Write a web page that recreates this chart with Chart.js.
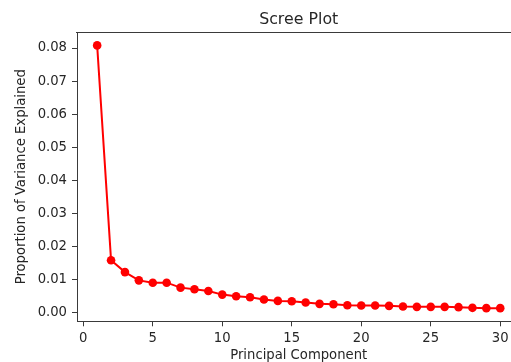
<!DOCTYPE html>
<html>
<head>
<meta charset="utf-8">
<script src="https://cdn.jsdelivr.net/npm/chart.js@4"></script>
<style>
    html, body { margin: 0; padding: 0; background: #fff; }
    #wrap { width: 511px; height: 362px; overflow: hidden; position: relative; }
    #chart { position: absolute; left: 0; top: 0; }
</style>
</head>
<body>
<div id="wrap"><canvas id="chart" width="530" height="372"></canvas></div>
<script>
// Data
const components = [1, 2, 3, 4, 5, 6, 7, 8, 9, 10, 11, 12, 13, 14, 15,
                    16, 17, 18, 19, 20, 21, 22, 23, 24, 25, 26, 27, 28, 29, 30];
const varianceExplained = [0.0808, 0.0159, 0.0123, 0.0098, 0.0091, 0.0091, 0.0076, 0.0071, 0.0066, 0.0055,
                           0.0050, 0.0047, 0.0040, 0.0036, 0.0035, 0.0031, 0.0027, 0.0026, 0.0023, 0.0022,
                           0.0022, 0.0021, 0.0019, 0.0018, 0.0018, 0.0018, 0.0017, 0.0015, 0.0014, 0.0014];
const xTicks = [0, 5, 10, 15, 20, 25, 30];
const yTicks = [0.00, 0.01, 0.02, 0.03, 0.04, 0.05, 0.06, 0.07, 0.08];

const FONT = "'DejaVu Sans', sans-serif";
const TEXT = '#262626';
const SPINE = '#3a3a3a';

// matplotlib style 5% margins
function padRange(vals) {
    const lo = Math.min(...vals), hi = Math.max(...vals);
    const m = (hi - lo) * 0.05;
    return [lo - m, hi + m];
}
const [xMin, xMax] = padRange(components);
const [yMin, yMax] = padRange(varianceExplained);

// top spine only; left/bottom come from the axes, right one is cropped away
const topSpine = {
    id: 'topSpine',
    afterDraw(chart) {
        const { ctx, chartArea: a } = chart;
        const y = Math.round(a.top) + 0.5;
        ctx.save();
        ctx.strokeStyle = SPINE;
        ctx.lineWidth = 1;
        ctx.beginPath();
        ctx.moveTo(a.left - 1, y);
        ctx.lineTo(chart.width, y);
        ctx.stroke();
        ctx.restore();
    }
};

new Chart(document.getElementById('chart'), {
    type: 'line',
    data: {
        datasets: [{
            data: components.map((c, i) => ({ x: c, y: varianceExplained[i] })),
            borderColor: '#ff0000',
            backgroundColor: '#ff0000',
            borderWidth: 2,
            pointRadius: 4.3,
            pointBorderWidth: 0,
            pointBackgroundColor: '#ff0000',
            tension: 0,
        }]
    },
    options: {
        responsive: false,
        animation: false,
        events: [],
        layout: { padding: { left: 0, right: 9.6, top: 0, bottom: 0 } },
        plugins: {
            legend: { display: false },
            tooltip: { enabled: false },
            title: {
                display: true,
                text: 'Scree Plot',
                fullSize: false,
                color: TEXT,
                font: { family: FONT, size: 15.8, weight: 'normal' },
                padding: { top: 10.5, bottom: 2.8 },
            }
        },
        scales: {
            x: {
                type: 'linear',
                min: xMin,
                max: xMax,
                afterBuildTicks: s => { s.ticks = xTicks.map(v => ({ value: v })); },
                afterFit: s => { s.height = 50.7; },
                ticks: {
                    color: TEXT,
                    font: { family: FONT, size: 13.2 },
                    padding: 4,
                    maxRotation: 0,
                    callback: v => String(v),
                },
                grid: { drawOnChartArea: false, drawTicks: true, tickLength: 5, color: SPINE },
                border: { display: true, color: SPINE, width: 1 },
                title: {
                    display: true,
                    text: 'Principal Component',
                    color: TEXT,
                    font: { family: FONT, size: 13.2 },
                    padding: { top: 0, bottom: 9 },
                }
            },
            y: {
                type: 'linear',
                min: yMin,
                max: yMax,
                afterBuildTicks: s => { s.ticks = yTicks.map(v => ({ value: v })); },
                afterFit: s => { s.width = 77; },
                ticks: {
                    color: TEXT,
                    font: { family: FONT, size: 13.2 },
                    padding: 5,
                    callback: v => v.toFixed(2),
                },
                grid: { drawOnChartArea: false, drawTicks: true, tickLength: 5, color: SPINE },
                border: { display: true, color: SPINE, width: 1 },
                title: {
                    display: true,
                    text: 'Proportion of Variance Explained',
                    color: TEXT,
                    font: { family: FONT, size: 13.2 },
                    padding: { top: 14, bottom: 0 },
                }
            }
        }
    },
    plugins: [topSpine]
});
</script>
</body>
</html>
